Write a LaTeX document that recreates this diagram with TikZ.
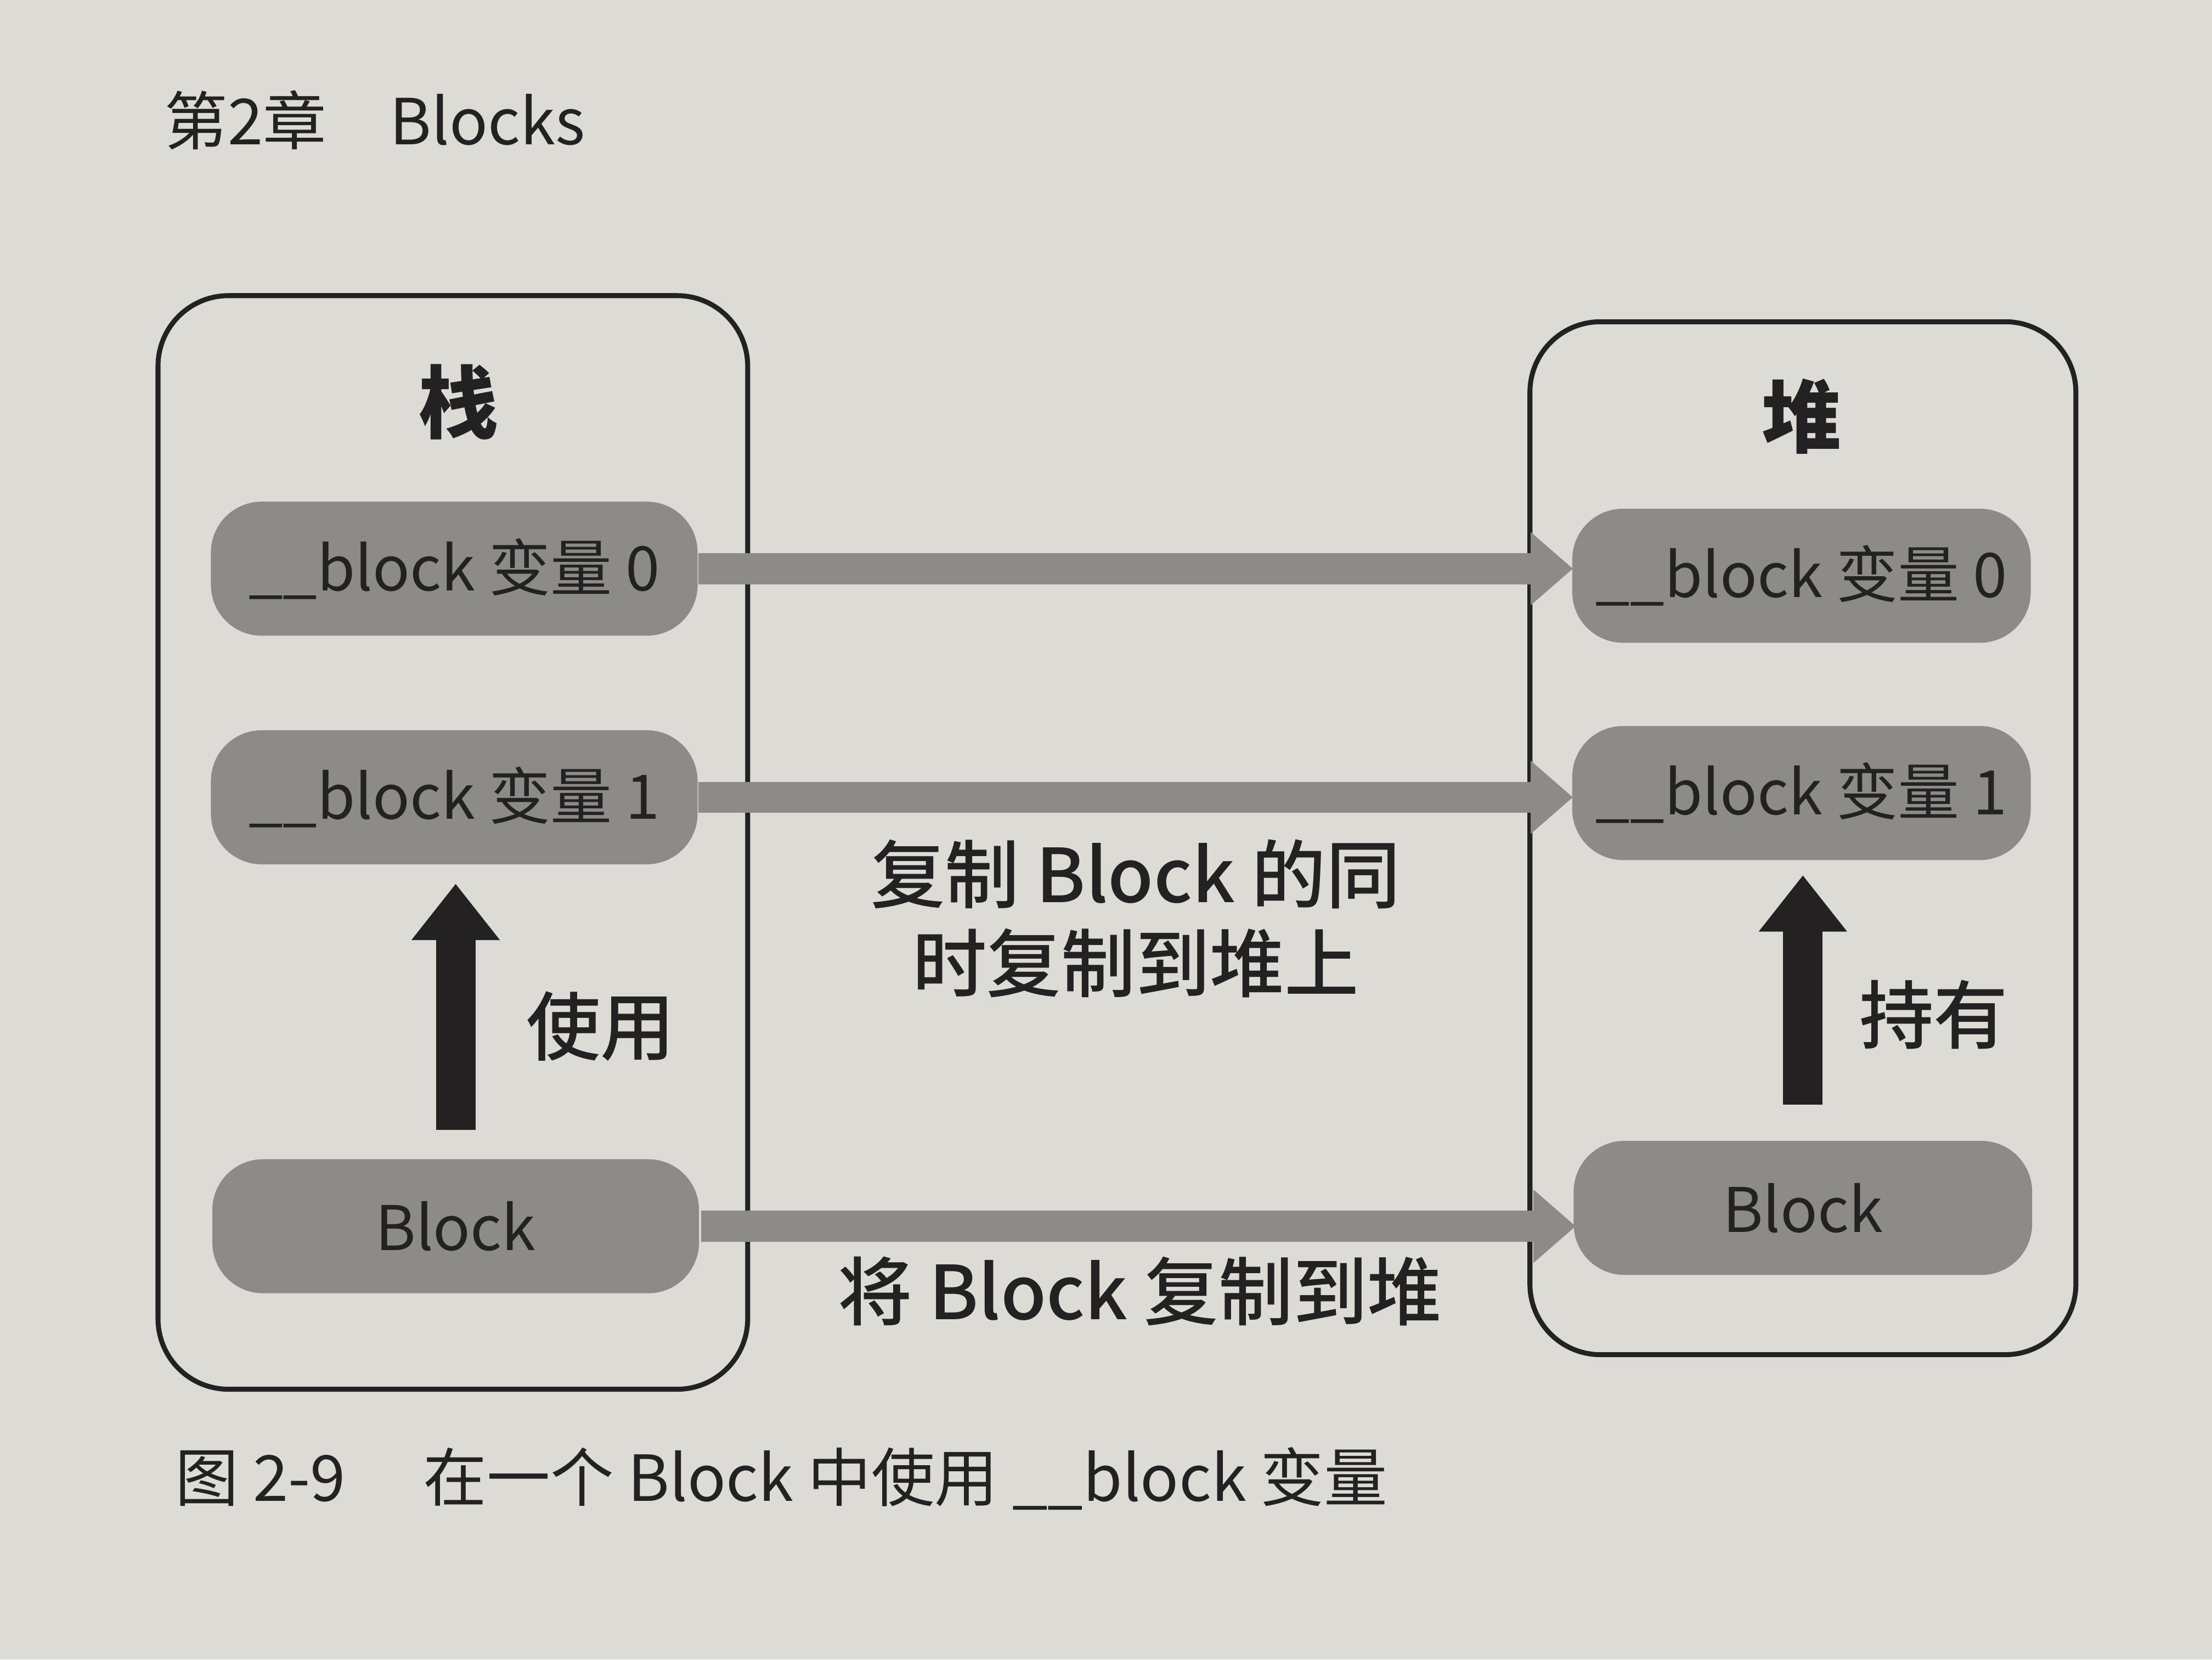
\documentclass[tikz,border=0pt]{standalone}
\usepackage{fontspec}
\setmainfont{Noto Sans CJK SC}
\newfontfamily\medfont{Noto Sans CJK SC Medium}
\usetikzlibrary{arrows.meta,positioning}
\definecolor{paper}{RGB}{221,219,213}
\definecolor{dot}{RGB}{140,139,136}
\definecolor{ink}{RGB}{35,33,33}

\tikzset{
  memarea/.style={draw=ink, line width=1pt, rounded corners=5mm},
  pill/.style={rounded corners=3.6mm, fill=dot, minimum height=9.5mm,
    inner sep=0pt, text=ink, font=\fontsize{12.4}{14}\selectfont},
  copyarrow/.style={draw=dot, line width=2.2mm, -{Triangle[width=5mm,length=3mm]}},
  refarrow/.style={draw=ink, line width=2.8mm, -{Triangle[width=6mm,length=4mm]}},
  areatitle/.style={font=\fontsize{16}{18}\selectfont\bfseries, text=ink},
  note/.style={font=\medfont\fontsize{15}{18}\selectfont, text=ink, align=center},
}

\begin{document}
\begin{tikzpicture}[x=0.1mm, y=-0.1mm]
\useasboundingbox (0,0) rectangle (1568,1176);
\fill[paper] (0,0) rectangle (1568,1176);

% page header
\node[anchor=west, text=ink, font=\fontsize{12.8}{15}\selectfont] (header) at (104,85) {第2章\quad Blocks};

% stack and heap areas
\node[memarea, minimum width=41.8mm, minimum height=77.5mm] (stack) at (321,597) {};
\node[memarea, minimum width=38.7mm, minimum height=73.2mm] (heap) at (1278,594) {};
\node[areatitle] (stackTitle) at (325,285) {栈};
\node[areatitle] (heapTitle) at (1277,295) {堆};

% copy arrows (drawn before the pills)
\coordinate (var0Lend) at (495,403);
\coordinate (var1Lend) at (495,565);
\coordinate (blockLend) at (497,869);
\coordinate (var0Rend) at (1115,403);
\coordinate (var1Rend) at (1115,565);
\coordinate (blockRend) at (1117,856);
\draw[copyarrow] (var0Lend) -- (var0Rend);
\draw[copyarrow] (var1Lend) -- (var1Rend);
\draw[copyarrow] (blockLend) -- (blockRend |- blockLend);

% stack side
\node[pill, minimum width=34.5mm] (var0L) at (322,403) {\_\_block 变量 0};
\node[pill, minimum width=34.5mm] (var1L) at (322,565) {\_\_block 变量 1};
\node[pill, minimum width=34.5mm] (blockL) at (323,869) {Block};

% heap side
\node[pill, minimum width=32.5mm] (var0R) at (1277,408) {\_\_block 变量 0};
\node[pill, minimum width=32.5mm] (var1R) at (1277,562) {\_\_block 变量 1};
\node[pill, minimum width=32.5mm] (blockR) at (1278,856) {Block};

% use / hold arrows
\draw[refarrow, shorten <=2mm, shorten >=1.3mm] (blockL.north) -- (blockL.north |- var1L.south);
\draw[refarrow, shorten <=2.5mm, shorten >=1mm] (blockR.north) -- (blockR.north |- var1R.south);
\path (blockL.north) -- (var1L.south) coordinate[pos=0.45] (useMid);
\path (blockR.north) -- (var1R.south) coordinate[pos=0.45] (holdMid);
\node[note, font=\medfont\fontsize{15}{18}\selectfont, anchor=west, right=3.8mm of useMid] (useText) {使用};
\node[note, font=\medfont\fontsize{15}{18}\selectfont, anchor=west, right=2.8mm of holdMid] (holdText) {持有};

% middle notes
\node[note] (copyVars) at (805,651) {复制 Block 的同\\时复制到堆上};
\node[note] (copyBlock) at (808,915) {将 Block 复制到堆};

% caption
\node[anchor=west, text=ink, font=\fontsize{12.8}{14}\selectfont] (caption) at (112,1048)
  {图 2-9\quad\ 在一个 Block 中使用 \_\_block 变量};
\end{tikzpicture}
\end{document}
